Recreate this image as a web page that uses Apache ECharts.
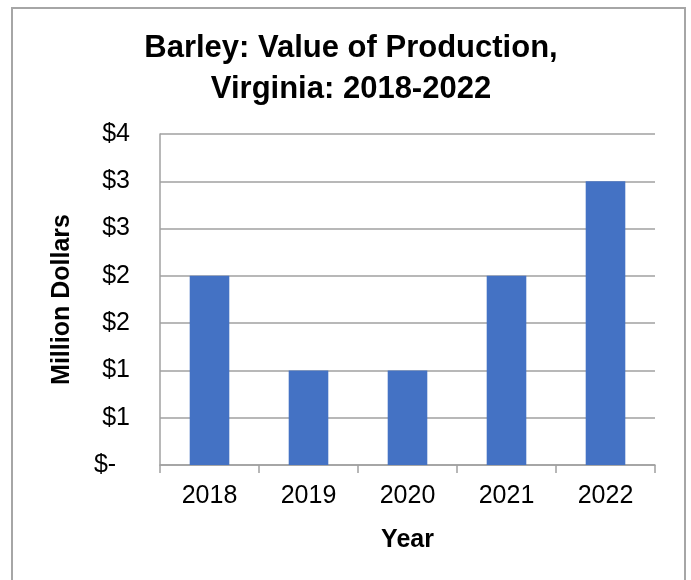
<!DOCTYPE html>
<html>
<head>
<meta charset="utf-8">
<script src="https://cdn.jsdelivr.net/npm/echarts@6/dist/echarts.min.js"></script>
<style>
  html, body { margin: 0; padding: 0; background: #fff; }
  #wrap { position: relative; width: 691px; height: 580px; overflow: hidden; }
  #frame {
    position: absolute; left: 11px; top: 7px; width: 671px; height: 600px;
    border: 2px solid #a6a6a6; border-bottom: none;
  }
  #chart { position: absolute; left: 0; top: 0; width: 691px; height: 580px; }
</style>
</head>
<body>
<div id="wrap">
  <div id="frame"></div>
  <div id="chart"></div>
</div>
<script>
// data, in million dollars
var years = ["2018", "2019", "2020", "2021", "2022"];
var values = [2.0, 1.0, 1.0, 2.0, 3.0];

var chart = echarts.init(document.getElementById("chart"));
var font = "Liberation Sans, Arial, sans-serif";

var option = {
  backgroundColor: "transparent",
  animation: false,
  title: {
    text: "Barley: Value of Production,\nVirginia: 2018-2022",
    left: 346,
    textAlign: "center",
    top: 23,
    textStyle: {
      fontFamily: font,
      fontSize: 31,
      fontWeight: "bold",
      color: "#000",
      lineHeight: 41
    }
  },
  grid: {
    left: 160,
    right: 36,
    top: 134,
    bottom: 115
  },
  xAxis: {
    type: "category",
    data: years,
    name: "Year",
    nameLocation: "middle",
    nameGap: 63,
    nameTextStyle: {
      fontFamily: font,
      fontSize: 25,
      fontWeight: "bold",
      color: "#000"
    },
    axisLine: { show: true, lineStyle: { color: "#a0a0a0", width: 1.5 } },
    axisTick: { show: true, length: 8, lineStyle: { color: "#a0a0a0", width: 1.5 } },
    axisLabel: {
      margin: 19,
      fontFamily: font,
      fontSize: 25,
      color: "#000"
    }
  },
  yAxis: {
    type: "value",
    min: 0,
    max: 3.5,
    interval: 0.5,
    name: "Million Dollars",
    nameLocation: "middle",
    nameGap: 85,
    nameTextStyle: {
      fontFamily: font,
      fontSize: 25,
      fontWeight: "bold",
      color: "#000"
    },
    axisLine: { show: true, lineStyle: { color: "#a0a0a0", width: 1.5 } },
    axisTick: { show: false },
    splitLine: { show: true, lineStyle: { color: "#a0a0a0", width: 1.5 } },
    axisLabel: {
      margin: 30,
      fontFamily: font,
      fontSize: 25,
      color: "#000",
      formatter: function (v) {
        if (v === 0) return "$-  ";
        return "$" + Math.round(v);
      }
    }
  },
  series: [
    {
      type: "bar",
      data: values,
      barWidth: "40%",
      itemStyle: { color: "#4472c4" }
    }
  ]
};

chart.setOption(option);
</script>
</body>
</html>
